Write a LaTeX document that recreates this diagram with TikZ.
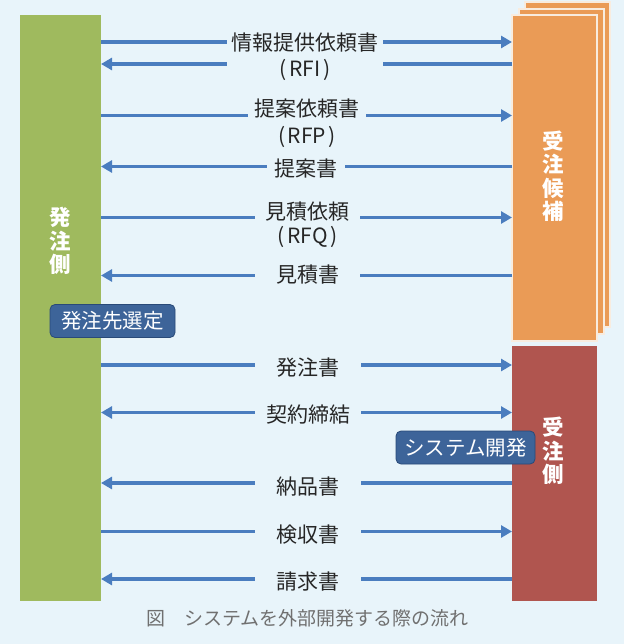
\documentclass[tikz,border=0pt]{standalone}
\usepackage{fontspec}
\setmainfont{Noto Sans CJK JP}
\usetikzlibrary{arrows.meta}
\definecolor{bg}{HTML}{E8F4FA}
\definecolor{grn}{HTML}{9FBA5E}
\definecolor{org}{HTML}{EA9B56}
\definecolor{orgedge}{HTML}{F8ECDF}
\definecolor{redb}{HTML}{B0554F}
\definecolor{arrb}{HTML}{4A7DBF}
\definecolor{badge}{HTML}{3D6499}
\definecolor{badgeb}{HTML}{294A78}
\definecolor{txt}{HTML}{262626}
\definecolor{capc}{HTML}{707070}
\newcommand{\pl}{(\kern2.5pt}
\newcommand{\pr}{\kern2.5pt)}
\begin{document}
\begin{tikzpicture}[x=1pt,y=-1pt,
  bar/.style={anchor=north west, inner sep=0pt, outer sep=0pt},
  vtext/.style={text=white, font=\fontsize{21.5}{23.5}\selectfont\bfseries, align=center, inner sep=0pt},
  lab/.style={text=txt, font=\fontsize{21}{24}\selectfont, inner sep=0pt, minimum height=20pt},
  arr/.style={draw=arrb, line width=3.2pt},
  tip/.style={arr, -{Triangle[length=11pt,width=12pt]}},
  badgebox/.style={fill=badge, draw=badgeb, line width=0.8pt, rounded corners=5pt, text=white, font=\fontsize{20.5}{24}\selectfont, inner sep=0pt, minimum height=33pt}
]
\useasboundingbox (0,0) rectangle (624,644);
\fill[bg] (0,0) rectangle (624,644);

% left bar
\node[bar, fill=grn, minimum width=81pt, minimum height=586pt] (ord) at (20,15) {};
\node[vtext] (ordt) at (60,241) {発\\注\\側};

% candidate stack
\node[bar, fill=org, draw=orgedge, line width=1.2pt, minimum width=85pt, minimum height=325pt] (c3) at (525,2) {};
\node[bar, fill=org, draw=orgedge, line width=1.2pt, minimum width=85pt, minimum height=325pt] (c2) at (519,9) {};
\node[bar, fill=org, draw=orgedge, line width=1.2pt, minimum width=85pt, minimum height=326pt] (cand) at (512,15) {};
\node[vtext] (candt) at (553,176.5) {受\\注\\候\\補};

% receiver
\node[bar, fill=redb, minimum width=85pt, minimum height=255pt] (rcv) at (512,346) {};
\node[vtext] (rcvt) at (553,451) {受\\注\\側};

% arrow levels
\coordinate (a1) at (0,42);
\coordinate (a2) at (0,64);
\coordinate (a3) at (0,115.5);
\coordinate (a4) at (0,166.5);
\coordinate (a5) at (0,217.5);
\coordinate (a6) at (0,275.5);
\coordinate (a7) at (0,365);
\coordinate (a8) at (0,412.5);
\coordinate (a9) at (0,483);
\coordinate (a10) at (0,531.5);
\coordinate (a11) at (0,579);

% labels
\node[lab, minimum width=156pt] (m1) at (305,43) {情報提供依頼書};
\node[lab, minimum width=156pt] (m1b) at (305,70) {\pl RFI\pr};
\node[lab, minimum width=118pt] (m2) at (307,109) {提案依頼書};
\node[lab] (m2b) at (307,137) {\pl RFP\pr};
\node[lab, minimum width=78pt] (m3) at (306,169) {提案書};
\node[lab, minimum width=105pt] (m4) at (307.5,212) {見積依頼};
\node[lab] (m4b) at (307.5,237) {\pl RFQ\pr};
\node[lab, minimum width=105pt] (m5) at (307.5,275) {見積書};
\node[lab, minimum width=106pt] (m6) at (308,368) {発注書};
\node[lab, minimum width=106pt] (m7) at (308,415) {契約締結};
\node[lab, minimum width=106pt] (m8) at (308,487) {納品書};
\node[lab, minimum width=106pt] (m9) at (308,535) {検収書};
\node[lab, minimum width=106pt] (m10) at (308,582) {請求書};

% arrows
\draw[arr] (ord.east |- a1) -- (m1.west |- a1);
\draw[tip] (m1.east |- a1) -- (cand.west |- a1);
\draw[arr] (cand.west |- a2) -- (m1b.east |- a2);
\draw[tip] (m1b.west |- a2) -- (ord.east |- a2);
\draw[arr] (ord.east |- a3) -- (m2.west |- a3);
\draw[tip] (m2.east |- a3) -- (cand.west |- a3);
\draw[arr] (cand.west |- a4) -- (m3.east |- a4);
\draw[tip] (m3.west |- a4) -- (ord.east |- a4);
\draw[arr] (ord.east |- a5) -- (m4.west |- a5);
\draw[tip] (m4.east |- a5) -- (cand.west |- a5);
\draw[arr] (cand.west |- a6) -- (m5.east |- a6);
\draw[tip] (m5.west |- a6) -- (ord.east |- a6);
\draw[arr] (ord.east |- a7) -- (m6.west |- a7);
\draw[tip] (m6.east |- a7) -- (rcv.west |- a7);
\draw[tip] (m7.west |- a8) -- (ord.east |- a8);
\draw[tip] (m7.east |- a8) -- (rcv.west |- a8);
\draw[arr] (rcv.west |- a9) -- (m8.east |- a9);
\draw[tip] (m8.west |- a9) -- (ord.east |- a9);
\draw[arr] (ord.east |- a10) -- (m9.west |- a10);
\draw[tip] (m9.east |- a10) -- (rcv.west |- a10);
\draw[arr] (rcv.west |- a11) -- (m10.east |- a11);
\draw[tip] (m10.west |- a11) -- (ord.east |- a11);

% badges
\node[badgebox, minimum width=125pt] (sel) at (112.5,321) {発注先選定};
\node[badgebox, minimum width=139pt] (dev) at (465.5,447.5) {システム開発};

% caption
\node[text=capc, font=\fontsize{19}{22}\selectfont, inner sep=0pt] (capt) at (307.5,618) {図　システムを外部開発する際の流れ};
\end{tikzpicture}
\end{document}
